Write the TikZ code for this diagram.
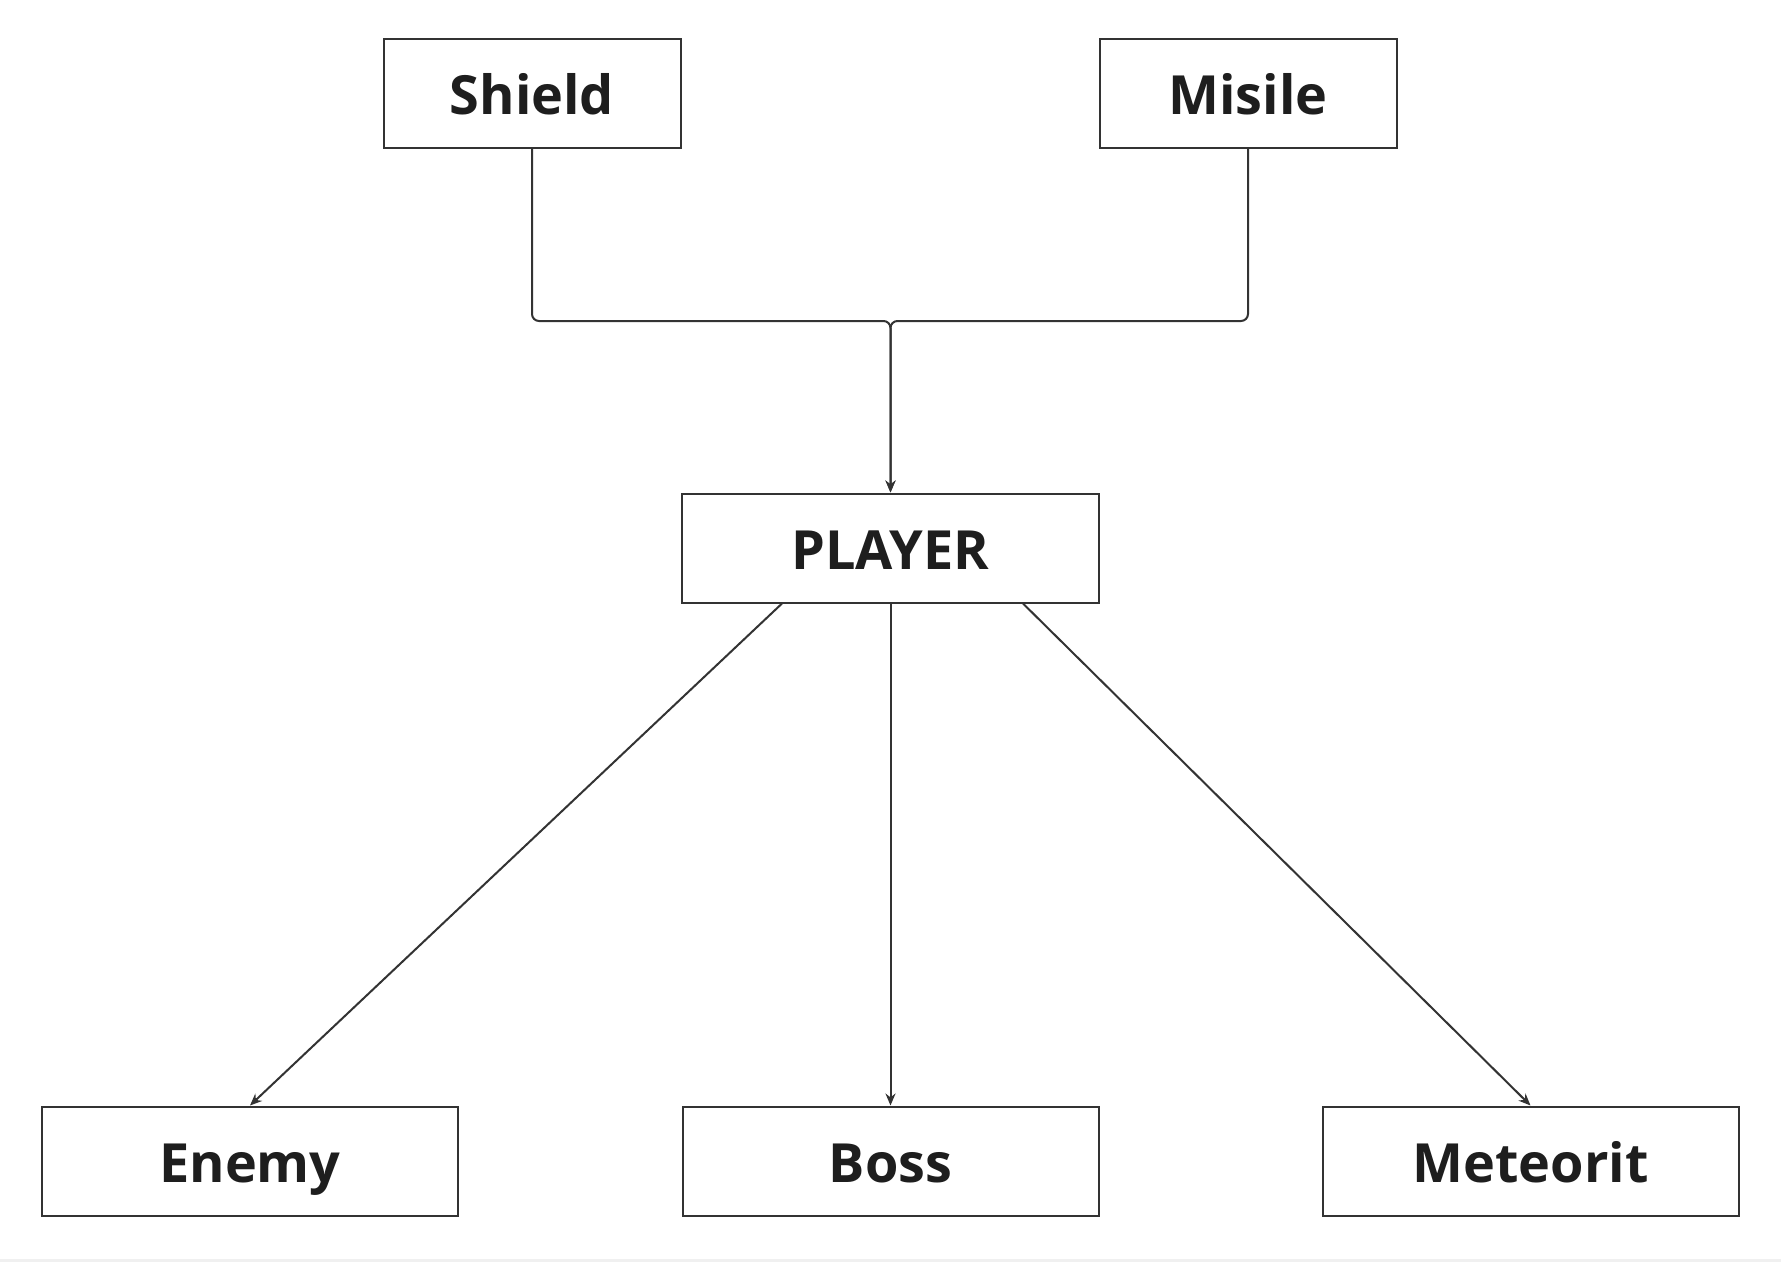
\documentclass[tikz,border=0pt]{standalone}
\usepackage{fontspec}
\setmainfont{Open Sans}
\usetikzlibrary{arrows.meta}
\definecolor{ln}{HTML}{333333}
\definecolor{tx}{HTML}{1E1E1E}
\begin{document}
\begin{tikzpicture}[x=1pt,y=-1pt,
  box/.style={draw=ln,line width=2pt,fill=white,minimum height=109pt,inner sep=0pt,
    text height=43pt,text depth=0pt,
    font=\fontsize{54}{58}\selectfont\bfseries,text=tx},
  conn/.style={draw=ln,line width=2pt,-{Stealth[length=12pt,width=10pt]}}]
\fill[white] (0,0) rectangle (1781,1262);
\fill[black!6] (0,1259) rectangle (1781,1262);
\useasboundingbox (0,0) rectangle (1781,1262);
\node[box,minimum width=297pt] (shield) at (532,93) {Shield};
\node[box,minimum width=297pt] (misile) at (1248,93) {Misile};
\node[box,minimum width=417pt] (player) at (890.5,548) {PLAYER};
\node[box,minimum width=416pt] (enemy) at (250,1161) {Enemy};
\node[box,minimum width=416pt] (boss) at (890.5,1161) {Boss};
\node[box,minimum width=416pt] (meteorit) at (1530.5,1161) {Meteorit};
\coordinate (jl) at (shield.south |- 0,321);
\coordinate (jr) at (misile.south |- 0,321);
\coordinate (jm) at (player.north |- 0,321);
\draw[conn,rounded corners=7pt] (shield.south) -- (jl) -- (jm) -- (player.north);
\draw[conn,rounded corners=7pt] (misile.south) -- (jr) -- (jm) -- (player.north);
\draw[conn] ([xshift=101pt]player.south west) -- (enemy.north);
\draw[conn] (player.south) -- (boss.north);
\draw[conn] ([xshift=-77pt]player.south east) -- (meteorit.north);
\end{tikzpicture}
\end{document}
